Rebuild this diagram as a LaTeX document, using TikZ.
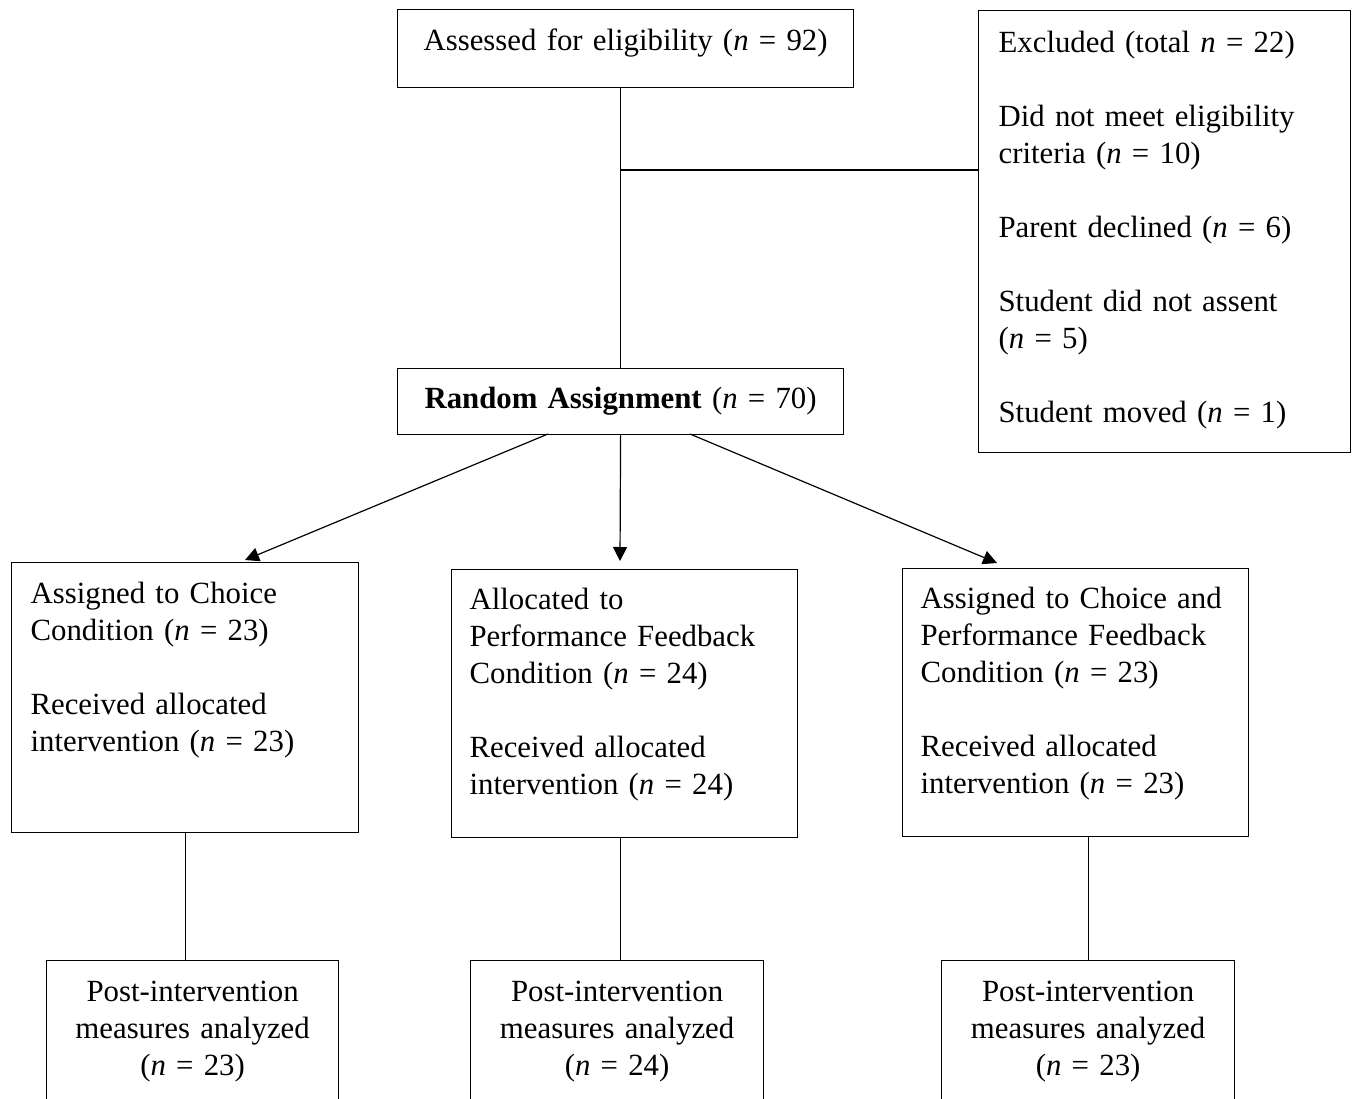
\documentclass[tikz,border=0pt]{standalone}
\usepackage{fontspec}
\setmainfont{Liberation Serif}
\usetikzlibrary{arrows.meta}
\tikzset{
  flowbox/.style={draw, line width=0.6pt, anchor=north west, inner ysep=0pt, inner xsep=10.5pt, text height=20.5pt},
  arr/.style={line width=0.6pt, -{Triangle[length=7pt,width=7pt]}},
  plain/.style={line width=0.6pt}
}

\begin{document}
\begin{tikzpicture}[x=0.5pt,y=-0.5pt,font=\fontsize{15.4pt}{18.5pt}\selectfont]
\useasboundingbox (0,0) rectangle (1355,1098);
\clip (0,0) rectangle (1355,1098);

\node [flowbox, text width=218pt, inner xsep=5pt, align=center, text depth=18.5pt] (assessed) at (397,9)
  {Assessed for eligibility (\textit{n} = 92)};
\node [flowbox, text width=166pt, inner xsep=10pt, align=left, text height=21pt, text depth=200pt] (excluded) at (978,10)
  {Excluded (total \textit{n} = 22)\\[18.5pt]
   Did not meet eligibility\\ criteria (\textit{n} = 10)\\[18.5pt]
   Parent declined (\textit{n} = 6)\\[18.5pt]
   Student did not assent\\ (\textit{n} = 5)\\[18.5pt]
   Student moved (\textit{n} = 1)};
\node [flowbox, text width=213pt, inner xsep=5pt, align=center, text height=20pt, text depth=13pt] (random) at (397,368)
  {\textbf{Random Assignment} (\textit{n} = 70)};

\node [flowbox, text width=154.5pt, inner xsep=9.5pt, align=left, text depth=114.5pt] (choice) at (11,562)
  {Assigned to Choice\\ Condition (\textit{n} = 23)\\[18.5pt]
   Received allocated\\ intervention (\textit{n} = 23)};
\node [flowbox, text width=155pt, inner xsep=9pt, align=left, text height=20pt, text depth=114pt] (feedback) at (451,569)
  {Allocated to\\ Performance Feedback\\ Condition (\textit{n} = 24)\\[18.5pt]
   Received allocated\\ intervention (\textit{n} = 24)};
\node [flowbox, text width=155pt, inner xsep=9pt, align=left, text height=20pt, text depth=114pt] (both) at (902,568)
  {Assigned to Choice and\\ Performance Feedback\\ Condition (\textit{n} = 23)\\[18.5pt]
   Received allocated\\ intervention (\textit{n} = 23)};

\node [flowbox, text width=136pt, inner xsep=5pt, align=center, text depth=80pt] (postchoice) at (46,960)
  {Post-intervention\\ measures analyzed\\ (\textit{n} = 23)};
\node [flowbox, text width=136.5pt, inner xsep=5pt, align=center, text depth=80pt] (postfeedback) at (470,960)
  {Post-intervention\\ measures analyzed\\ (\textit{n} = 24)};
\node [flowbox, text width=136.5pt, inner xsep=5pt, align=center, text depth=80pt] (postboth) at (941,960)
  {Post-intervention\\ measures analyzed\\ (\textit{n} = 23)};

\coordinate (split) at (620,170);
\coordinate (left) at (548,434);
\coordinate (right) at (690,434);
\coordinate (tipchoice) at (245,560);
\coordinate (tipfeedback) at (620,561);
\coordinate (tipboth) at (997,563);

\draw [plain] (random.north) to (random.north |- assessed.south);
\draw [plain] (split) to (split -| excluded.west);
\draw [arr] (left) to (tipchoice);
\draw [arr] (random.south) to (tipfeedback);
\draw [arr] (right) to (tipboth);
\draw [plain] (choice.south) to (choice.south |- postchoice.north);
\draw [plain] (feedback.south -| random.south) to (postfeedback.north -| random.south);
\draw [plain] (postboth.north) to (postboth.north |- both.south);

\end{tikzpicture}
\end{document}
